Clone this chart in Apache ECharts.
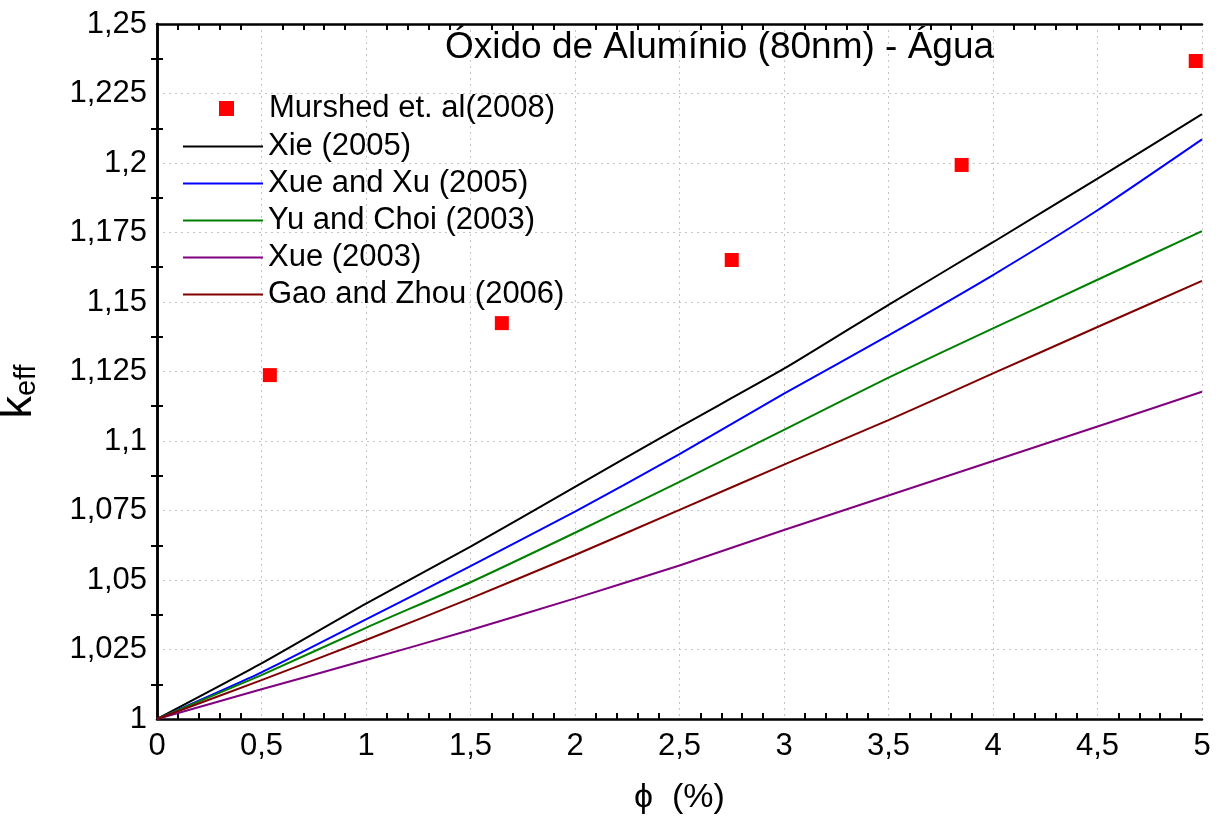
<!DOCTYPE html>
<html>
<head>
<meta charset="utf-8">
<script src="https://cdn.jsdelivr.net/npm/echarts@6/dist/echarts.min.js"></script>
<style>
  html, body { margin: 0; padding: 0; background: #fff; }
  #chart { width: 1224px; height: 818px; }
</style>
</head>
<body>
<div id="chart"></div>
<script>
// volume fraction (%) where the model curves were read
var phi = [0, 0.5, 1, 1.5, 2, 2.5, 3, 3.5, 4, 4.5, 5];

var xie2005 = [1, 1.0200, 1.0415, 1.0620, 1.0835, 1.1050, 1.1260, 1.1490, 1.1715, 1.1944, 1.2176];
var xueXu2005 = [1, 1.0168, 1.0358, 1.0550, 1.0746, 1.0953, 1.1170, 1.1380, 1.1597, 1.1830, 1.2085];
var yuChoi2003 = [1, 1.0158, 1.0328, 1.0492, 1.0670, 1.0853, 1.1040, 1.1228, 1.1405, 1.1580, 1.1755];
var xue2003 = [1, 1.0107, 1.0212, 1.0320, 1.0434, 1.0552, 1.0680, 1.0804, 1.0928, 1.1052, 1.1177];
var gaoZhou2006 = [1, 1.0140, 1.0284, 1.0434, 1.0590, 1.0752, 1.0915, 1.1075, 1.1243, 1.1410, 1.1576];

// experimental points
var murshedPhi = [0.54, 1.65, 2.75, 3.85, 4.97];
var murshedK = [1.1237, 1.1424, 1.1651, 1.1993, 1.2367];

var names = ['Murshed et. al(2008)', 'Xie (2005)', 'Xue and Xu (2005)', 'Yu and Choi (2003)', 'Xue (2003)', 'Gao and Zhou (2006)'];

var font = 'Liberation Sans, Arial, sans-serif';

function pairs(xs, ys) {
  return xs.map(function (x, i) { return [x, ys[i]]; });
}

function comma(v) {
  return String(+v.toFixed(4)).replace('.', ',');
}

function line(name, data, color) {
  return {
    name: name,
    type: 'line',
    data: pairs(phi, data),
    symbol: 'none',
    smooth: 0.2,
    lineStyle: { color: color, width: 2 },
    itemStyle: { color: color },
    z: 3
  };
}

var chart = echarts.init(document.getElementById('chart'), null, { renderer: 'canvas' });

var option = {
  backgroundColor: '#ffffff',
  animation: false,
  textStyle: { fontFamily: font },
  title: {
    text: 'Óxido de Alumínio (80nm) - Água',
    left: 445,
    top: 29,
    padding: 0,
    textStyle: { fontFamily: font, fontSize: 37, fontWeight: 'normal', color: '#000' }
  },
  legend: [{
    data: [names[0]],
    left: 219,
    top: 93,
    padding: 0,
    itemWidth: 15,
    itemHeight: 15,
    textStyle: { fontFamily: font, fontSize: 31, lineHeight: 30, color: '#000', padding: [0, 0, 0, 30] }
  }, {
    data: names.slice(1),
    orient: 'vertical',
    left: 183,
    top: 131,
    padding: 0,
    icon: 'rect',
    itemWidth: 80,
    itemHeight: 2,
    itemGap: 6,
    textStyle: { fontFamily: font, fontSize: 31, lineHeight: 30, color: '#000' }
  }],
  grid: { left: 157, right: 22, top: 24, bottom: 99, containLabel: false, outerBoundsMode: 'none' },
  xAxis: [{
    type: 'value',
    min: 0,
    max: 5,
    interval: 0.5,
    name: 'ϕ  (%)',
    nameLocation: 'middle',
    nameGap: 62,
    nameTextStyle: { fontFamily: font, fontSize: 34, color: '#000' },
    axisLine: { lineStyle: { color: '#000', width: 2.5 } },
    axisTick: { show: false, inside: true },
    minorTick: { show: true, splitNumber: 5, length: 6, lineStyle: { color: '#000', width: 2 } },
    axisLabel: { fontFamily: font, fontSize: 31, color: '#000', margin: 12, formatter: comma },
    splitLine: { show: true, lineStyle: { color: '#c4c4c4', width: 1, type: [2, 4] } }
  }, {
    type: 'value',
    position: 'top',
    min: 0,
    max: 5,
    interval: 0.5,
    axisLine: { show: true, lineStyle: { color: '#000', width: 2.5 } },
    axisTick: { show: false, inside: true },
    minorTick: { show: true, splitNumber: 5, length: 6, lineStyle: { color: '#000', width: 2 } },
    axisLabel: { show: false },
    splitLine: { show: false }
  }],
  yAxis: [{
    type: 'value',
    min: 1,
    max: 1.25,
    interval: 0.025,
    name: '{k|k}{s|eff}',
    nameLocation: 'middle',
    nameRotate: 90,
    nameGap: 116,
    nameTextStyle: {
      color: '#000',
      rich: {
        k: { fontFamily: font, fontSize: 45, color: '#000', lineHeight: 44 },
        s: { fontFamily: font, fontSize: 29, color: '#000', verticalAlign: 'bottom', lineHeight: 10, padding: [0, 40, 0, 0] }
      }
    },
    axisLine: { lineStyle: { color: '#000', width: 2.5 } },
    axisTick: { show: false, inside: true },
    minorTick: { show: true, splitNumber: 2, length: 6, lineStyle: { color: '#000', width: 2 } },
    axisLabel: { fontFamily: font, fontSize: 31, color: '#000', margin: 10, formatter: comma },
    splitLine: { show: true, lineStyle: { color: '#c4c4c4', width: 1, type: [2, 4] } }
  }, {
    type: 'value',
    position: 'right',
    min: 1,
    max: 1.25,
    interval: 0.025,
    axisLine: { show: true, lineStyle: { color: '#000', width: 2.5 } },
    axisTick: { show: false, inside: true },
    minorTick: { show: true, splitNumber: 2, length: 6, lineStyle: { color: '#000', width: 2 } },
    axisLabel: { show: false },
    splitLine: { show: false }
  }],
  series: [
    {
      name: names[0],
      type: 'scatter',
      data: pairs(murshedPhi, murshedK),
      symbol: 'rect',
      symbolSize: 14,
      itemStyle: { color: '#ff0000', opacity: 1 },
      z: 4
    },
    line(names[1], xie2005, '#000000'),
    line(names[2], xueXu2005, '#0000ff'),
    line(names[3], yuChoi2003, '#008000'),
    line(names[4], xue2003, '#800080'),
    line(names[5], gaoZhou2006, '#800000')
  ]
};

chart.setOption(option);
</script>
</body>
</html>
